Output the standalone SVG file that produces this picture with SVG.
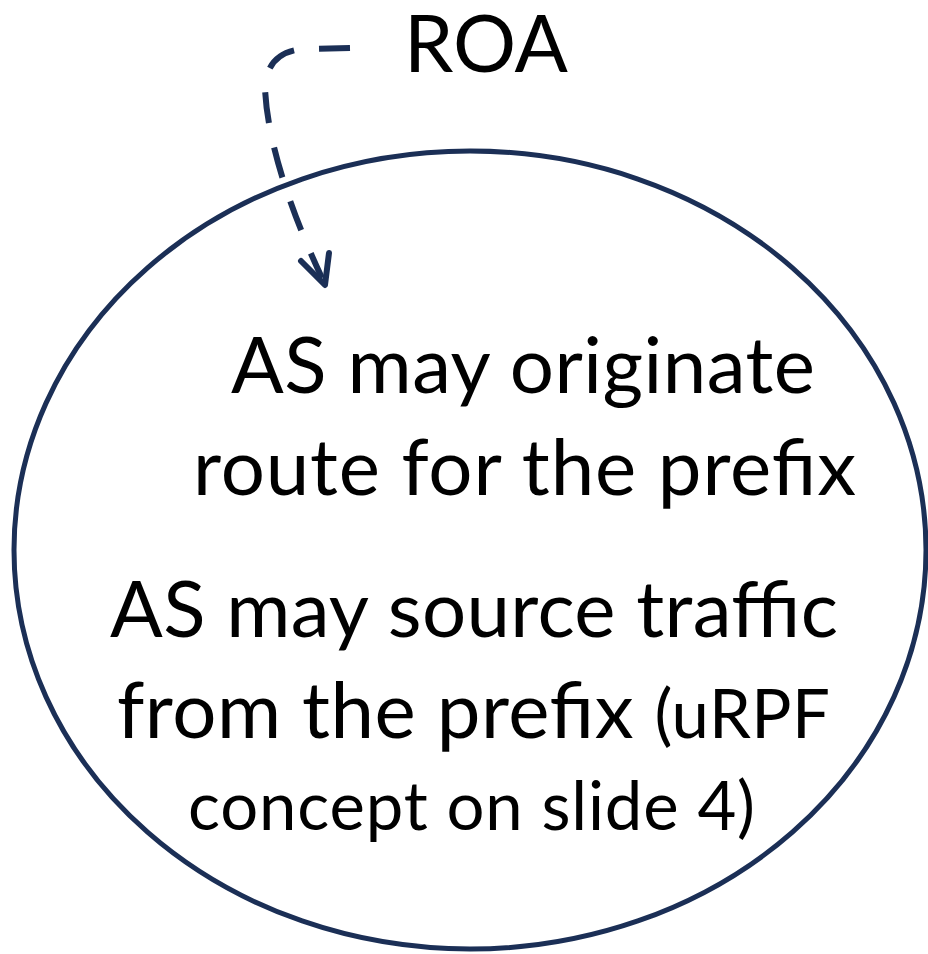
<svg xmlns="http://www.w3.org/2000/svg" width="928" height="954" viewBox="0 0 928 954">
<style>
.big{font-family:Lato,"Liberation Sans",sans-serif;font-size:78px;fill:#000}
.small{font-size:67px}
.line{fill:none;stroke:#1b2f56;stroke-width:5}
.conn{fill:none;stroke:#1b2f56;stroke-width:6}
</style>
<rect width="928" height="954" fill="#fff"/>
<g id="connectors">
<path class="conn" d="M 350 48 L 305 49 C 282 50 266 62 265 88 C 267 140 290 210 322 278" stroke-dasharray="31 25"/>
<polyline class="conn" points="301,261 325,285 329,253" stroke-linecap="round" stroke-linejoin="round"/>
</g>
<g id="roa">
<text class="big" x="404" y="72" style="font-size:80px" textLength="164" lengthAdjust="spacingAndGlyphs">ROA</text>
</g>
<g id="as-node">
<ellipse class="line" cx="470" cy="550" rx="456" ry="399"/>
<text class="big" x="231" y="393" textLength="584">AS may originate</text>
<text class="big" x="193" y="495" textLength="663">route for the prefix</text>
<text class="big" x="110" y="637" textLength="728">AS may source traffic</text>
<text class="big" x="117" y="738" textLength="713">from the prefix <tspan class="small">(uRPF</tspan></text>
<text class="big small" x="188" y="830" textLength="567">concept on slide 4)</text>
</g>
</svg>
